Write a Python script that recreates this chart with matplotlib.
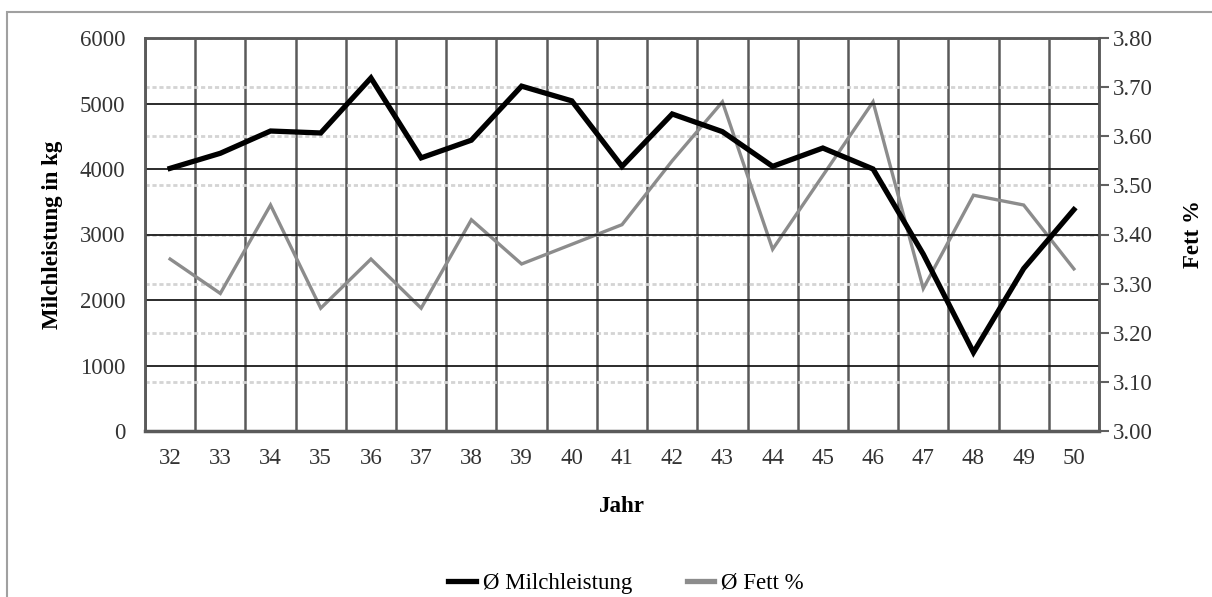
import matplotlib

matplotlib.use("Agg")
import matplotlib.pyplot as plt
from matplotlib.lines import Line2D
from matplotlib.patches import Rectangle

# data
jahre = ["32", "33", "34", "35", "36", "37", "38", "39", "40", "41",
         "42", "43", "44", "45", "46", "47", "48", "49", "50"]
milchleistung = [4010, 4240, 4580, 4550, 5390, 4170, 4440, 5265, 5040, 4040,
                 4840, 4570, 4040, 4320, 4000, 2700, 1200, 2480, 3380]
fett = [3.35, 3.28, 3.46, 3.25, 3.35, 3.25, 3.43, 3.34, 3.38, 3.42,
        3.55, 3.67, 3.37, 3.52, 3.67, 3.29, 3.48, 3.46, 3.33]
kg_ticks = [0, 1000, 2000, 3000, 4000, 5000, 6000]
fett_ticks = [3.0, 3.1, 3.2, 3.3, 3.4, 3.5, 3.6, 3.7, 3.8]

plt.rcParams["font.family"] = ["Liberation Serif", "DejaVu Serif"]
plt.rcParams["font.size"] = 16.5

W, H = 1212, 597
fig = plt.figure(figsize=(W / 100, H / 100), dpi=100)

# outer chart frame (cut off at right and bottom like the reference)
fig.patches.append(Rectangle((7 / W, -0.1), 1.2, 1 - 12 / H + 0.1,
                             transform=fig.transFigure, fill=False,
                             edgecolor="#a0a0a0", linewidth=1.5))

left, bottom, right, top = 145, 431, 1099, 38
ax2 = fig.add_axes([left / W, 1 - bottom / H, (right - left) / W, (bottom - top) / H])
ax = ax2.twinx()
ax.yaxis.tick_left()
ax.yaxis.set_label_position("left")
ax2.yaxis.tick_right()
ax2.yaxis.set_label_position("right")

x = list(range(len(jahre)))

# secondary axis: fat content (drawn below)
ax2.plot(x, fett, color="#8c8c8c", linewidth=2.4, solid_joinstyle="miter", zorder=3)
ax2.set_ylim(3.0, 3.8)
ax2.set_yticks(fett_ticks)
ax2.set_yticklabels([f"{v:.2f}" for v in fett_ticks])
ax2.yaxis.grid(True, color="#d4d4d4", linestyle=(0, (1.5, 1)), linewidth=2)
ax2.tick_params(axis="y", direction="out", length=7, width=1.5, color="#606060",
                pad=3, labelcolor="#333333")
ax2.set_ylabel("Fett %", fontweight="bold", labelpad=22)
ax2.set_xlim(-0.5, len(jahre) - 0.5)
ax2.set_xticks(x)
ax2.set_xticklabels(jahre)
ax2.set_xticks([i - 0.5 for i in range(len(jahre) + 1)], minor=True)
ax2.tick_params(axis="x", which="both", length=0)
ax2.tick_params(axis="x", pad=12, labelcolor="#333333")
ax2.xaxis.grid(True, which="minor", color="#5a5a5a", linewidth=1.8)
ax2.set_axisbelow(True)
ax2.set_xlabel("Jahr", fontweight="bold", labelpad=20)

# primary axis: milk yield (drawn on top)
ax.set_zorder(ax2.get_zorder() + 1)
ax.patch.set_visible(False)
ax.plot(x, milchleistung, color="black", linewidth=3.8, solid_joinstyle="miter", zorder=4)
ax.set_ylim(0, 6000)
ax.set_yticks(kg_ticks)
ax.tick_params(axis="y", length=0, pad=14, labelcolor="#333333")
ax.set_ylabel("Milchleistung in kg", fontweight="bold", labelpad=12)
ax.yaxis.grid(True, color="#1a1a1a", linewidth=1.3)
ax.set_axisbelow(True)

for a in (ax, ax2):
    for side in ("top", "left", "right", "bottom"):
        a.spines[side].set_color("#5a5a5a")
        a.spines[side].set_linewidth(1.8)
ax.spines["bottom"].set_linewidth(2.5)

handles = [Line2D([], [], color="black", linewidth=3.8),
           Line2D([], [], color="#8c8c8c", linewidth=3.8)]
fig.legend(handles, ["Ø Milchleistung", "Ø Fett %"], loc="center",
           bbox_to_anchor=(626 / W, 1 - 583 / H), ncol=2, frameon=False,
           handlelength=1.2, handletextpad=0.3, columnspacing=2.4)

fig.savefig("out.png", dpi=100)
